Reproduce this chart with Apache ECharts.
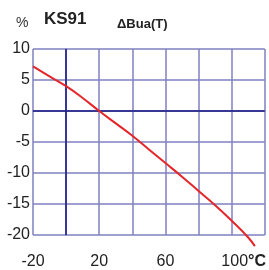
<!DOCTYPE html>
<html><head><meta charset="utf-8">
<script src="https://cdn.jsdelivr.net/npm/echarts@6/dist/echarts.min.js"></script>
<style>html,body{margin:0;padding:0;background:#fff}#c{width:269px;height:270px}</style>
</head><body><div id="c"></div>
<script>
const temps = [-20, -10, 0, 10, 20, 30, 40, 50, 60, 70, 80, 90, 100, 110, 114];
const deltaBua = [7.2, 5.6, 4.0, 2.1, 0.0, -2.0, -4.0, -6.2, -8.4, -10.6, -12.9, -15.2, -17.7, -20.4, -21.8];
const xTickLabels = ['-20', '20', '60', '100'];
const yTickLabels = ['10', '5', '0', '-5', '-10', '-15', '-20'];

const chart = echarts.init(document.getElementById('c'));
const gridColor = '#8080c0';
const darkColor = '#1c1c84';
const lblFont = {fontFamily: 'Liberation Sans', fontSize: 16, color: '#222'};
chart.setOption({
  animation: false,
  title: [
    {text: '%', left: 11, top: 11, textStyle: {fontFamily: 'Liberation Sans', fontSize: 14, fontWeight: 'normal', color: '#333'}},
    {text: 'KS91', left: 39, top: 6, textStyle: {fontFamily: 'Liberation Sans', fontSize: 17, fontWeight: 'bold', color: '#222'}},
    {text: 'ΔBua(T)', left: 112, top: 13, textStyle: {fontFamily: 'Liberation Sans', fontSize: 13, fontWeight: 'bold', color: '#222'}}
  ],
  grid: {left: 33, right: 3, top: 49, bottom: 32},
  xAxis: {
    type: 'value', min: -20, max: 120, interval: 20,
    axisLine: {show: true, lineStyle: {color: gridColor, width: 1.5}},
    axisTick: {show: false},
    splitLine: {show: true, lineStyle: {color: gridColor, width: 1.5}},
    axisLabel: Object.assign({
      margin: 19,
      formatter: v => xTickLabels.includes(String(v)) ? (v === 100 ? '{a|' + v + '}{b|°C}' : String(v)) : '',
      rich: {a: Object.assign({padding: [0, 0, 0, 24]}, lblFont), b: Object.assign({fontWeight: 'bold'}, lblFont)}
    }, lblFont)
  },
  yAxis: {
    type: 'value', min: -20, max: 10, interval: 5,
    axisLine: {show: true, lineStyle: {color: gridColor, width: 1.5}},
    axisTick: {show: false},
    splitLine: {show: true, lineStyle: {color: gridColor, width: 1.5}},
    axisLabel: Object.assign({
      margin: 3,
      formatter: v => yTickLabels.includes(String(v)) ? String(v) : ''
    }, lblFont)
  },
  series: [
    {
      type: 'line', data: temps.map((t, i) => [t, deltaBua[i]]),
      showSymbol: false, clip: false, smooth: true,
      lineStyle: {color: '#e4262a', width: 2},
      z: 5,
      markLine: {
        silent: true, symbol: 'none', label: {show: false},
        lineStyle: {color: darkColor, width: 1.5, type: 'solid'},
        data: [{xAxis: 0}, {yAxis: 0}]
      }
    }
  ]
});
</script></body></html>
